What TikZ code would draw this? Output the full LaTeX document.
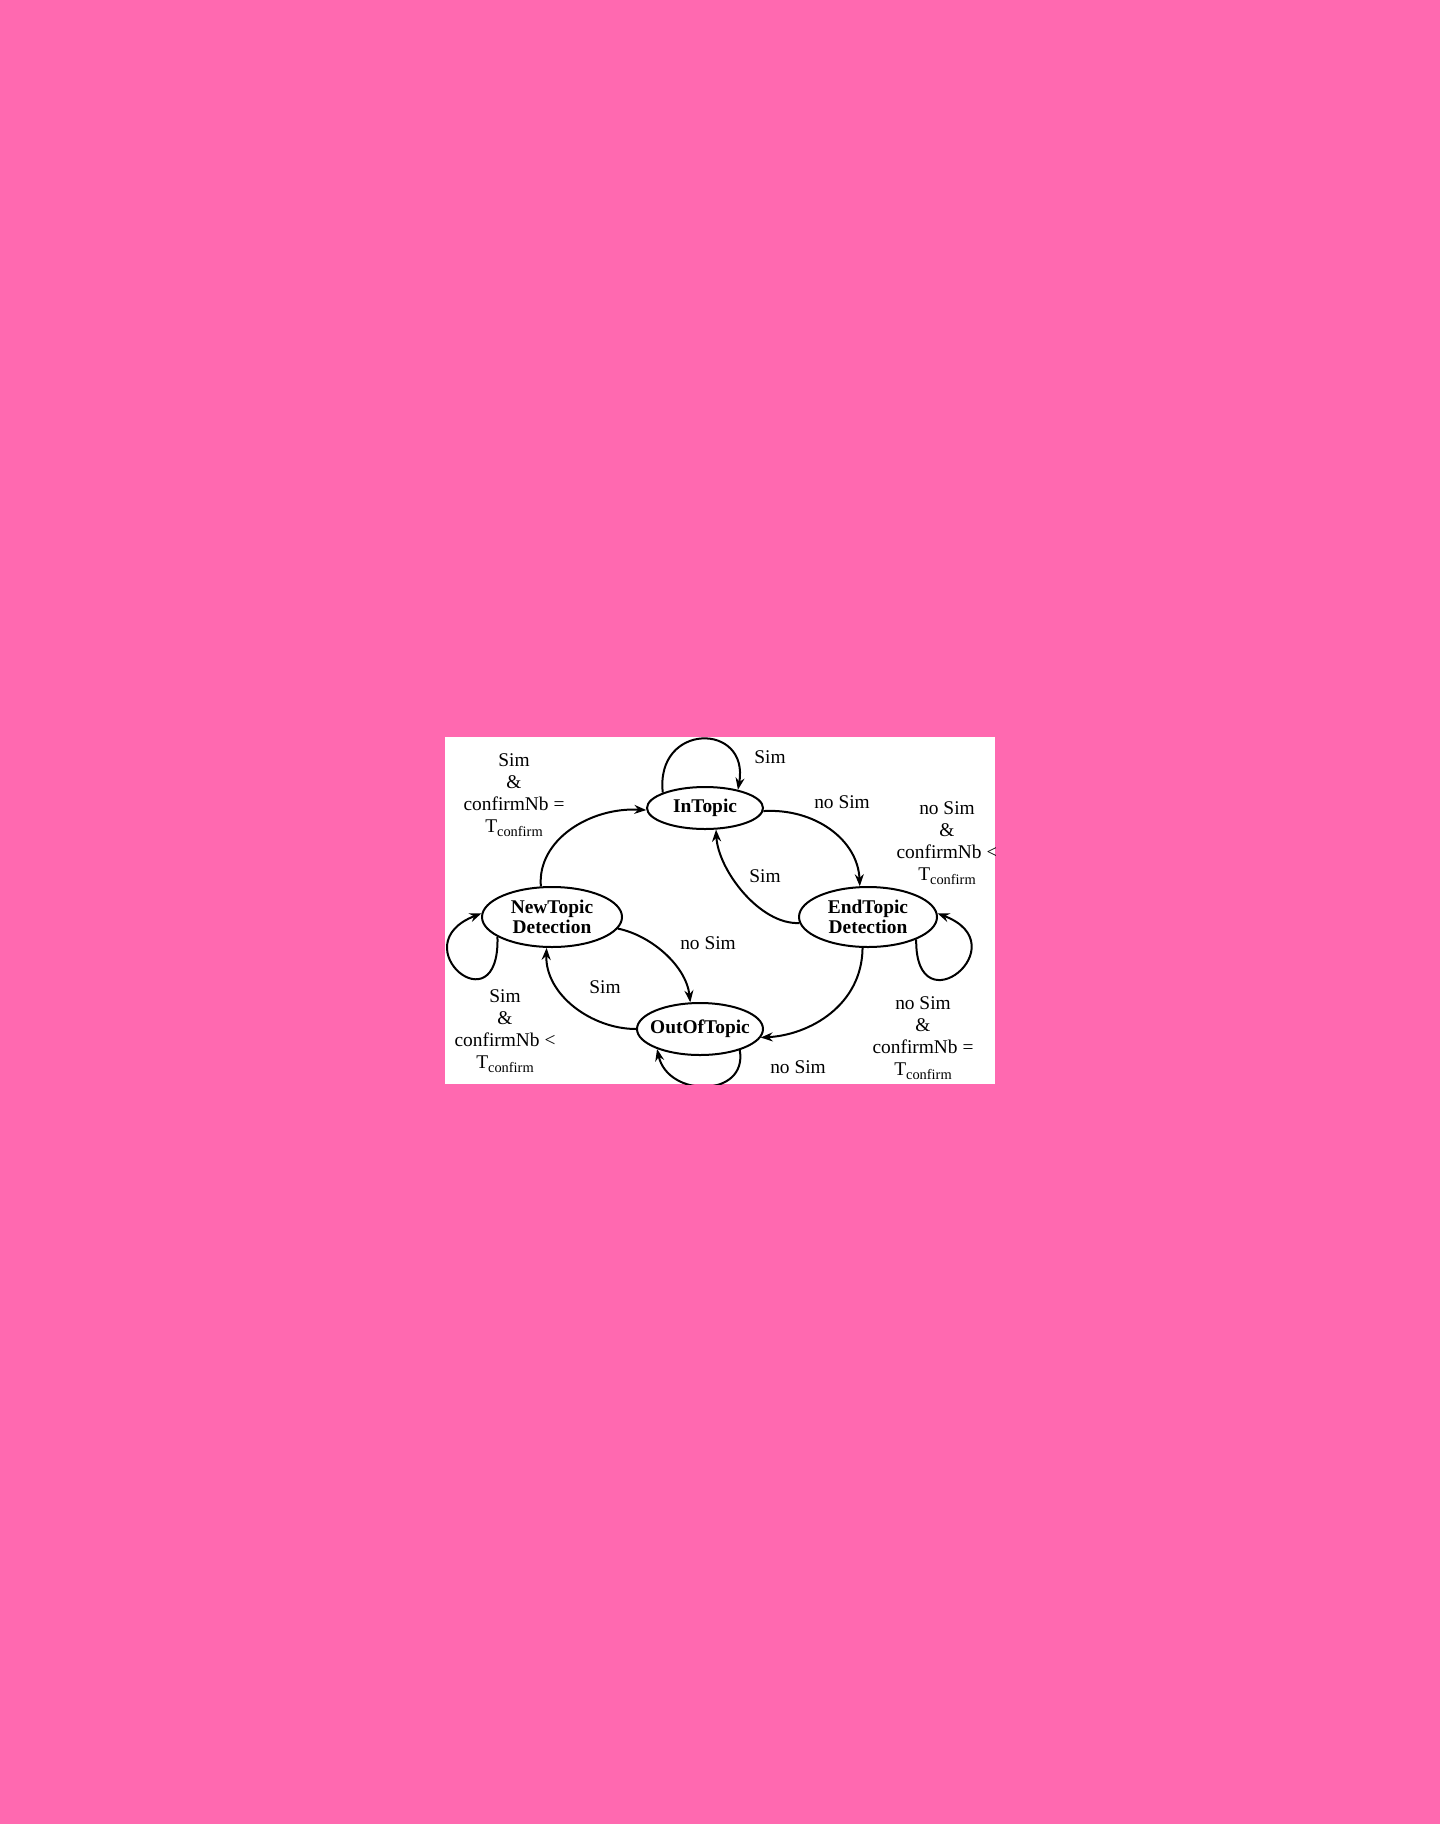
\documentclass[tikz,border=0pt]{standalone}
\usepackage{fontspec}
\setmainfont{Liberation Serif}
\usepackage{tikz}
\definecolor{pinkbg}{HTML}{FF69B0}
\usetikzlibrary{arrows.meta}
\usetikzlibrary{shapes}
\newcommand{\tconfirm}{T\raisebox{-0.4ex}{\fontsize{7.2}{8}\selectfont confirm}}

\begin{document}
\begin{tikzpicture}
    [
    x=0.5pt, y=-0.5pt, line width=1pt,
    >={Stealth[length=6pt,width=4.5pt,inset=2pt]},
    %Zustände
    zustand/.style={draw, ellipse, inner sep=0pt, align=center,
        font=\fontsize{9.7}{10}\selectfont\bfseries},
    %Beschriftungen
    bez/.style={align=center, inner sep=0pt, font=\fontsize{9.7}{11}\selectfont}
    ]

    %Hintergrund
    \useasboundingbox (0,0) rectangle (1440,1824);
    \fill[pinkbg] (0,0) rectangle (1440,1824);
    \fill[white] (445,737) rectangle (995,1084);

    \begin{scope}
    \clip (445,737) rectangle (995,1084);

    %Zustände
    \node[zustand, minimum width=58pt, minimum height=21pt] (InTopic) at (705,808) {InTopic};
    \node[zustand, minimum width=69pt, minimum height=30pt] (EndTopic) at (868,917) {EndTopic\\Detection};
    \node[zustand, minimum width=70pt, minimum height=30pt] (NewTopic) at (552,917) {NewTopic\\Detection};
    \node[zustand, minimum width=63pt, minimum height=26pt, inner xsep=-3pt] (OutOfTopic) at (700,1029) {OutOfTopic};

    %Übergänge
    \draw[->] (InTopic.160) .. controls (655,722) and (750,722) .. (InTopic.29);
    \draw[->] (InTopic.-3) .. controls (815,808) and (858,840) .. (EndTopic.105);
    \draw[->] (EndTopic.185) .. controls (760,925) and (718,870) .. (InTopic.-63);
    \draw[->] (NewTopic.110) .. controls (537,840) and (590,807) .. (InTopic.182);
    \draw[->] (NewTopic.-10) .. controls (650,935) and (686,965) .. (OutOfTopic.110);
    \draw[->] (OutOfTopic.180) .. controls (592,1029) and (545,995) .. (NewTopic.-100);
    \draw[->] (EndTopic.260) .. controls (862,1005) and (810,1035) .. (OutOfTopic.-8);

    %Schleifen
    \draw[->] (EndTopic.-25) .. controls (915,1030) and (1020,945) .. (EndTopic.3);
    \draw[->] (NewTopic.200) .. controls (500,1030) and (400,945) .. (NewTopic.177);
    \draw[->] (OutOfTopic.-28) .. controls (748,1098) and (668,1098) .. (OutOfTopic.205);

    %Bedingungen
    \node[bez] (lInLoop) at (770,757) {Sim};
    \node[bez] (lInEnd) at (842,802) {no Sim};
    \node[bez] (lEndIn) at (765,876) {Sim};
    \node[bez] (lNewIn) at (514,795) {Sim\\\&\\confirmNb =\\\tconfirm};
    \node[bez] (lNewOut) at (708,943) {no Sim};
    \node[bez] (lOutNew) at (605,987) {Sim};
    \node[bez] (lEndOut) at (923,1038) {no Sim\\\&\\confirmNb =\\\tconfirm};
    \node[bez] (lEndLoop) at (947,843) {no Sim\\\&\\confirmNb <\\\tconfirm};
    \node[bez] (lNewLoop) at (505,1031) {Sim\\\&\\confirmNb <\\\tconfirm};
    \node[bez] (lOutLoop) at (798,1067) {no Sim};
    \end{scope}
\end{tikzpicture}
\end{document}
